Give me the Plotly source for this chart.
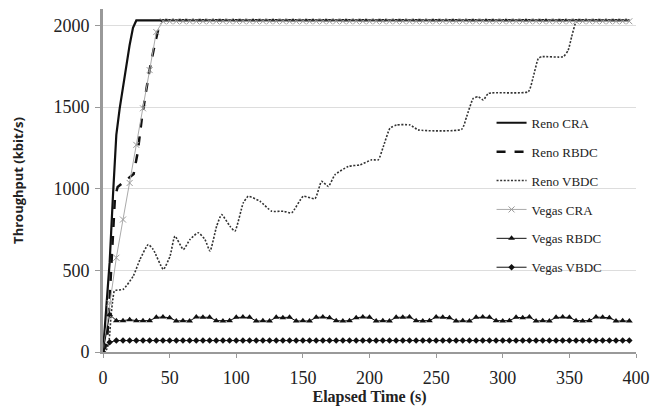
import plotly.graph_objects as go

# ---------------- data ----------------
reno_cra_t = [0, 2.5, 5, 7.5, 10, 12.5, 15, 17.5, 20, 22.5, 25, 395]
reno_cra_v = [0, 280, 550, 960, 1330, 1490, 1630, 1770, 1880, 1985, 2030, 2030]

reno_rbdc_t = [0, 3, 5, 7, 9, 11, 14, 17, 20, 23, 26, 29, 32, 35, 38, 41, 44, 46, 395]
reno_rbdc_v = [0, 60, 330, 640, 950, 1010, 1030, 1050, 1070, 1090, 1220, 1420, 1580,
               1730, 1850, 1960, 2025, 2030, 2030]

reno_vbdc_t = [0, 3, 4.7, 6, 7.5, 8.5, 10, 15.2, 22.7, 27.8, 34, 37.7, 45.3, 50.3, 54,
               60.3, 65.3, 71.5, 76.5, 80.3, 85.3, 89, 95.3, 99, 105.3, 109, 117.8,
               126.6, 135.3, 141.6, 150.3, 159.1, 164.1, 169.1, 174.1, 184.1, 192.9,
               201.7, 206.6, 210.4, 215.4, 220.4, 230.4, 236.6, 269.2, 272.9, 277.9,
               281.6, 285.4, 289.2, 319.2, 322.9, 326.7, 329.2, 345.4, 349.1, 351.7,
               355, 358, 395]
reno_vbdc_v = [0, 20, 80, 220, 330, 374, 378, 384, 465, 567, 658, 628, 506, 587, 709,
               628, 689, 730, 689, 618, 770, 841, 770, 740, 913, 953, 923,
               862, 862, 852, 953, 939, 1045, 1014, 1085, 1136, 1146,
               1177, 1177, 1258, 1370, 1390, 1390, 1360, 1364, 1441, 1553,
               1563, 1543, 1583, 1594, 1685, 1797, 1808, 1808, 1848, 1930,
               2020, 2030, 2030]

vegas_t = list(range(0, 400, 5))
vegas_cra_v = [0, 300, 577, 811, 1035, 1268, 1492, 1726, 1959,
               2025, 2025, 2025, 2025, 2025, 2025, 2025, 2025, 2025, 2025,
               2025, 2025, 2025, 2025, 2025, 2025, 2025, 2025, 2025, 2025,
               2025, 2025, 2025, 2025, 2025, 2025, 2025, 2025, 2025, 2025,
               2025, 2025, 2025, 2025, 2025, 2025, 2025, 2025, 2025, 2025,
               2025, 2025, 2025, 2025, 2025, 2025, 2025, 2025, 2025, 2025,
               2025, 2025, 2025, 2025, 2025, 2025, 2025, 2025, 2025, 2025,
               2025, 2025, 2025, 2025, 2025, 2025, 2025, 2025, 2025, 2025, 2025]
vegas_rbdc_v = [0, 230, 192, 192, 198, 192, 192, 192,
                212, 214, 210, 190, 192, 190, 214, 212, 212, 192, 190, 192,
                212, 214, 212, 190, 192, 190, 212, 210, 212, 190, 192, 190,
                212, 214, 210, 192, 190, 192, 210, 214, 212, 190, 192, 190,
                212, 212, 214, 192, 190, 192, 214, 212, 210, 190, 192, 190,
                212, 214, 212, 192, 190, 192, 212, 210, 214, 190, 192, 190,
                212, 214, 212, 192, 190, 192, 214, 212, 210, 190, 192, 190]
vegas_vbdc_v = [0, 60, 70, 70, 70, 70, 70, 70, 70, 70,
                70, 70, 70, 70, 70, 70, 70, 70, 70, 70,
                70, 70, 70, 70, 70, 70, 70, 70, 70, 70,
                70, 70, 70, 70, 70, 70, 70, 70, 70, 70,
                70, 70, 70, 70, 70, 70, 70, 70, 70, 70,
                70, 70, 70, 70, 70, 70, 70, 70, 70, 70,
                70, 70, 70, 70, 70, 70, 70, 70, 70, 70,
                70, 70, 70, 70, 70, 70, 70, 70, 70, 70]

x_ticks = [0, 50, 100, 150, 200, 250, 300, 350, 400]
y_ticks = [0, 500, 1000, 1500, 2000]

# ---------------- figure ----------------
fig = go.Figure()

fig.add_trace(go.Scatter(x=reno_cra_t, y=reno_cra_v, name="Reno CRA", mode="lines",
                         line=dict(color="#111111", width=2.2), legendgroup="a"))
fig.add_trace(go.Scatter(x=reno_rbdc_t, y=reno_rbdc_v, name="Reno RBDC", mode="lines",
                         line=dict(color="#111111", width=2.5, dash="dash"), legendgroup="b"))
fig.add_trace(go.Scatter(x=reno_vbdc_t, y=reno_vbdc_v, name="Reno VBDC", mode="lines",
                         line=dict(color="#333333", width=1.6, dash="2px,1.6px",
                                   shape="spline", smoothing=0.5),
                         legendgroup="c"))
fig.add_trace(go.Scatter(x=vegas_t, y=vegas_cra_v, name="Vegas CRA", mode="lines+markers",
                         line=dict(color="#aaaaaa", width=1),
                         marker=dict(symbol="x-thin", size=6, color="#999999",
                                     line=dict(color="#999999", width=1)),
                         legendgroup="d"))
fig.add_trace(go.Scatter(x=vegas_t, y=vegas_rbdc_v, name="Vegas RBDC", mode="lines+markers",
                         line=dict(color="#111111", width=1),
                         marker=dict(symbol="triangle-up", size=6, color="#111111"),
                         legendgroup="e"))
fig.add_trace(go.Scatter(x=vegas_t, y=vegas_vbdc_v, name="Vegas VBDC", mode="lines+markers",
                         line=dict(color="#111111", width=1),
                         marker=dict(symbol="diamond", size=5, color="#111111"),
                         legendgroup="f"))

serif = "Liberation Serif, Times New Roman, serif"

fig.update_layout(
    width=652, height=414,
    margin=dict(l=103, r=16, t=9, b=62, autoexpand=False),
    paper_bgcolor="white", plot_bgcolor="white",
    font=dict(family=serif, size=16, color="#222222"),
    showlegend=True,
    legend=dict(x=0.729, y=0.712, xanchor="left", yanchor="top",
                bgcolor="rgba(0,0,0,0)", font=dict(family=serif, size=13, color="#222222"),
                tracegroupgap=9, itemwidth=30),
    xaxis=dict(range=[0, 400], tickvals=x_ticks, showgrid=False, zeroline=False,
               automargin=False,
               showline=True, linecolor="#999999", linewidth=2,
               ticks="outside", ticklen=4, tickcolor="#999999", ticklabelstandoff=4,
               tickfont=dict(family=serif, size=18, color="#222222"),
               title=dict(text="<b>Elapsed Time (s)</b>", standoff=3,
                          font=dict(family=serif, size=16, color="#222222"))),
    yaxis=dict(range=[0, 2100], tickvals=y_ticks, showgrid=True, gridcolor="#dddddd",
               gridwidth=1, zeroline=False, automargin=False,
               showline=True, linecolor="#999999", linewidth=3,
               ticks="outside", ticklen=5, tickcolor="#999999", ticklabelstandoff=2,
               tickfont=dict(family=serif, size=18, color="#222222"),
               title=dict(text="<b>Throughput (kbit/s)</b>", standoff=27,
                          font=dict(family="Open Sans, DejaVu Sans, sans-serif", size=13,
                                    color="#222222"))),
)

fig.write_html("out.html", config={"displayModeBar": False},
               post_script="document.body.style.margin='0';")
